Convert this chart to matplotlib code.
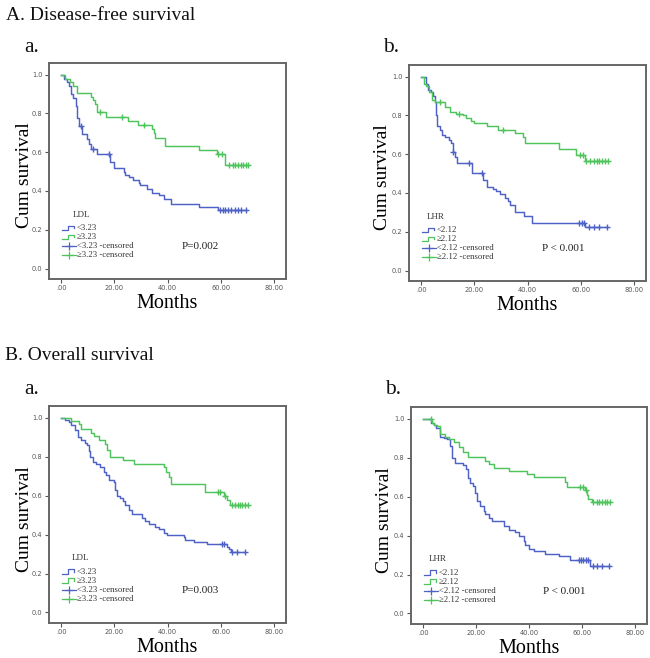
import numpy as np
import matplotlib
matplotlib.use("Agg")
import matplotlib.pyplot as plt

# ---------------- data ----------------
# A.a  Disease-free survival, LDL
dfs_ldl_low_t = [0, 1.0, 2.3, 2.9, 3.5, 4.5, 5.4, 6.0, 6.6, 7.9, 9.5, 10.4, 11.25, 13.5, 18.5, 19.75, 23.5, 24.1,
                 25.4, 27.0, 29.1, 29.75, 32.25, 34.1, 36.6, 38.5, 41.25, 51.9, 59.1]
dfs_ldl_low_s = [1.0, 0.98, 0.96, 0.94, 0.90, 0.88, 0.84, 0.777, 0.734, 0.696, 0.666, 0.64, 0.619, 0.593, 0.549,
                 0.52, 0.50, 0.482, 0.47, 0.455, 0.44, 0.429, 0.408, 0.388, 0.38, 0.357, 0.334, 0.317, 0.302]
dfs_ldl_low_c = [7.3, 12.0, 17.9, 59.75, 60.7, 61.6, 62.6, 63.8, 65.2, 66.6, 67.5, 69.3]
dfs_ldl_high_t = [0, 1.5, 3.4, 4.6, 5.9, 11.3, 12.0, 12.7, 13.6, 16.8, 25.0, 28.8, 34.1, 34.8, 35.4, 39.1, 51.8,
                  58.5, 61.6]
dfs_ldl_high_s = [1.0, 0.98, 0.96, 0.94, 0.907, 0.887, 0.867, 0.847, 0.807, 0.783, 0.762, 0.741, 0.72, 0.70,
                  0.675, 0.632, 0.611, 0.59, 0.536]
dfs_ldl_high_c = [14.5, 22.8, 31.0, 59.1, 60.4, 62.9, 64.5, 65.5, 66.5, 67.5, 68.5, 69.5, 70.3]

# A.b  Disease-free survival, LHR
dfs_lhr_low_t = [0, 1.9, 2.5, 3.5, 4.4, 5.0, 5.7, 6.0, 6.9, 7.8, 8.8, 10.3, 11.3, 11.9, 12.6, 13.6, 18.9, 23.3,
                 24.9, 27.1, 28.0, 29.6, 31.5, 32.8, 33.4, 35.3, 38.8, 41.6, 61.5]
dfs_lhr_low_s = [1.0, 0.96, 0.93, 0.92, 0.90, 0.87, 0.80, 0.746, 0.725, 0.70, 0.69, 0.674, 0.656, 0.613, 0.588,
                 0.553, 0.502, 0.467, 0.433, 0.42, 0.41, 0.395, 0.376, 0.36, 0.337, 0.30, 0.28, 0.247, 0.227]
dfs_lhr_low_c = [12.1, 17.9, 22.7, 59.2, 60.5, 61.1, 63.0, 64.9, 66.8, 69.9]
dfs_lhr_high_t = [0, 1.0, 1.9, 2.8, 4.0, 5.0, 8.8, 10.7, 13.2, 15.7, 17.0, 18.6, 19.9, 24.6, 29.0, 35.3, 38.4,
                  39.0, 51.7, 58.0, 61.4]
dfs_lhr_high_s = [1.0, 0.96, 0.95, 0.923, 0.88, 0.868, 0.842, 0.82, 0.808, 0.80, 0.785, 0.77, 0.76, 0.746,
                  0.725, 0.708, 0.69, 0.656, 0.625, 0.596, 0.567]
dfs_lhr_high_c = [6.9, 14.2, 30.9, 59.8, 60.7, 62.1, 63.6, 64.9, 66.1, 67.0, 68.0, 69.2, 70.4]

# B.a  Overall survival, LDL
os_ldl_low_t = [0, 1.6, 2.9, 3.75, 5.0, 6.25, 7.25, 8.75, 9.75, 10.4, 11.0, 11.9, 12.9, 14.5, 16.0, 17.0, 17.9,
                19.75, 20.4, 21.0, 22.0, 23.25, 24.1, 25.4, 26.6, 30.4, 31.6, 32.9, 35.4, 36.6, 38.5, 39.75,
                46.0, 46.6, 49.75, 54.75, 62.25, 63.25, 63.75]
os_ldl_low_s = [1.0, 0.99, 0.98, 0.96, 0.935, 0.90, 0.884, 0.87, 0.858, 0.83, 0.798, 0.773, 0.76, 0.747, 0.72,
                0.704, 0.68, 0.67, 0.631, 0.60, 0.59, 0.57, 0.55, 0.525, 0.504, 0.485, 0.47, 0.453, 0.44, 0.43,
                0.41, 0.40, 0.385, 0.37, 0.36, 0.35, 0.335, 0.325, 0.311]
os_ldl_low_c = [60.4, 61.25, 64.1, 66.25, 69.1]
os_ldl_high_t = [0, 3.5, 6.6, 7.6, 11.25, 12.25, 14.1, 16.6, 17.25, 18.25, 23.25, 27.25, 38.5, 39.5, 40.4,
                 41.25, 54.2, 61.25, 62.25, 63.5]
os_ldl_high_s = [1.0, 0.983, 0.966, 0.944, 0.921, 0.904, 0.885, 0.863, 0.832, 0.80, 0.785, 0.764, 0.747, 0.72,
                 0.696, 0.662, 0.619, 0.60, 0.576, 0.55]
os_ldl_high_c = [58.75, 59.75, 61.6, 64.1, 65.5, 66.6, 67.3, 68.0, 69.2, 70.4]

# B.b  Overall survival, LHR
os_lhr_low_t = [0, 2.8, 4.0, 5.0, 6.5, 7.8, 9.0, 10.3, 10.9, 11.9, 15.0, 16.0, 17.0, 17.8, 18.7, 19.7, 20.4,
                21.6, 22.9, 23.5, 24.75, 26.0, 30.4, 32.3, 34.8, 36.0, 37.9, 38.6, 40.0, 41.7, 46.1, 51.1,
                55.5, 63.0]
os_lhr_low_s = [1.0, 0.98, 0.97, 0.95, 0.908, 0.90, 0.896, 0.862, 0.80, 0.774, 0.76, 0.74, 0.696, 0.67, 0.656,
                0.62, 0.576, 0.554, 0.528, 0.51, 0.49, 0.473, 0.45, 0.43, 0.42, 0.40, 0.374, 0.349, 0.33,
                0.323, 0.306, 0.297, 0.275, 0.245]
os_lhr_low_c = [58.7, 59.7, 60.5, 61.4, 62.4, 64.3, 65.6, 67.5, 70.0]
os_lhr_high_t = [0, 3.4, 4.0, 5.3, 6.5, 8.4, 9.7, 11.6, 13.4, 15.0, 17.0, 23.5, 24.75, 26.6, 32.3, 39.2, 41.7,
                 53.6, 54.3, 61.2, 61.8, 62.4, 63.7]
os_lhr_high_s = [1.0, 0.98, 0.97, 0.964, 0.92, 0.905, 0.896, 0.879, 0.853, 0.827, 0.805, 0.785, 0.768, 0.745,
                 0.73, 0.716, 0.70, 0.674, 0.65, 0.632, 0.608, 0.59, 0.57]
os_lhr_high_c = [3.0, 59.3, 60.2, 61.5, 64.3, 65.6, 66.5, 67.5, 68.5, 69.5, 70.6]

x_ticks = [0, 20, 40, 60, 80]
x_tick_labels = [".00", "20.00", "40.00", "60.00", "80.00"]
y_ticks = [0.0, 0.2, 0.4, 0.6, 0.8, 1.0]
y_tick_labels = ["0.0", "0.2", "0.4", "0.6", "0.8", "1.0"]

ldl_labels = ["<3.23", "\u22653.23", "<3.23 -censored", "\u22653.23 -censored"]
lhr_labels = ["<2.12", "\u22652.12", "<2.12 -censored", "\u22652.12 -censored"]

BLUE = "#4d61c6"
GREEN = "#4fc45c"
SERIF = ["Liberation Serif", "DejaVu Serif"]

fig = plt.figure(figsize=(6.5, 6.58), dpi=100)
W, H = 650.0, 658.0


def add_ax(left, top, right, bottom):
    return fig.add_axes([left / W, 1 - bottom / H, (right - left) / W, (bottom - top) / H])


def km(ax, t, s, c, color):
    t = np.asarray(t, float)
    s = np.asarray(s, float)
    c = np.asarray(c, float)
    tend = max(t.max(), c.max() if len(c) else 0)
    ax.step(np.append(t, tend), np.append(s, s[-1]), where="post", color=color, lw=1.05)
    idx = np.searchsorted(t, c, side="right") - 1
    ax.plot(c, s[idx], ls="none", marker="+", ms=4.5, mew=1.0, color=color)


def panel(ax, low, high, header, labels, hx, ptext, ylx):
    km(ax, *low, BLUE)
    km(ax, *high, GREEN)
    ax.set_xlim(-4.6, 84.5)
    ax.set_ylim(-0.054, 1.06)
    ax.set_xticks(x_ticks)
    ax.set_xticklabels(x_tick_labels)
    ax.set_yticks(y_ticks)
    ax.set_yticklabels(y_tick_labels)
    ax.tick_params(direction="out", length=3, width=0.8, colors="#555555", labelsize=4.8, pad=1.5)
    for sp in ax.spines.values():
        sp.set_color("#666666")
        sp.set_linewidth(1.4)
    ax.set_ylabel("Cum survival", family=SERIF, fontsize=14)
    ax.yaxis.set_label_coords(ylx, 0.48)
    ax.set_xlabel("Months", family=SERIF, fontsize=14.5, labelpad=2)
    # legend drawn in data space
    ax.text(hx, 0.278, header, family=SERIF, fontsize=6.5, color="#333333", va="center")
    rows = [0.209, 0.163, 0.117, 0.071]
    cols = [BLUE, GREEN, BLUE, GREEN]
    x0, x1 = 0.3, 5.5
    for i, (yy, col, lab) in enumerate(zip(rows, cols, labels)):
        if i < 2:
            xs = [x0, x0 + 0.42 * (x1 - x0), x0 + 0.42 * (x1 - x0), x1 - 0.6, x1 - 0.6]
            ys = [yy - 0.012, yy - 0.012, yy + 0.012, yy + 0.012, yy - 0.002]
            ax.plot(xs, ys, color=col, lw=0.9)
        else:
            ax.plot([x0, x1], [yy, yy], color=col, lw=0.9)
            ax.plot([(x0 + x1) / 2], [yy], marker="+", ms=6, mew=0.9, color=col)
        ax.text(x1 + 0.4, yy, lab, family=SERIF, fontsize=6.3, color="#333333", va="center")
    ax.text(45.3, 0.112, ptext, family=SERIF, fontsize=8, color="#222222", va="center")


axAa = add_ax(49, 63, 286, 279)
panel(axAa, (dfs_ldl_low_t, dfs_ldl_low_s, dfs_ldl_low_c), (dfs_ldl_high_t, dfs_ldl_high_s, dfs_ldl_high_c),
      "LDL", ldl_labels, 4.3, "P=0.002", -0.068)
axAb = add_ax(409, 65, 646, 281)
panel(axAb, (dfs_lhr_low_t, dfs_lhr_low_s, dfs_lhr_low_c), (dfs_lhr_high_t, dfs_lhr_high_s, dfs_lhr_high_c),
      "LHR", lhr_labels, 1.9, "P < 0.001", -0.078)
axBa = add_ax(49, 406, 286, 623)
panel(axBa, (os_ldl_low_t, os_ldl_low_s, os_ldl_low_c), (os_ldl_high_t, os_ldl_high_s, os_ldl_high_c),
      "LDL", ldl_labels, 4.1, "P=0.003", -0.068)
axBb = add_ax(411, 407, 647, 624)
panel(axBb, (os_lhr_low_t, os_lhr_low_s, os_lhr_low_c), (os_lhr_high_t, os_lhr_high_s, os_lhr_high_c),
      "LHR", lhr_labels, 2.0, "P < 0.001", -0.078)


def ftext(x, y, s, size):
    fig.text(x / W, 1 - y / H, s, family=SERIF, fontsize=size, color="#111111", va="center", ha="left")


ftext(6, 15, "A. Disease-free survival", 14)
ftext(24, 48, "a.", 15.5)
ftext(383, 48, "b.", 15.5)
ftext(5, 355, "B. Overall survival", 14)
ftext(24, 390, "a.", 15.5)
ftext(385, 390, "b.", 15.5)

fig.savefig("out.png", dpi=100, facecolor="white")
